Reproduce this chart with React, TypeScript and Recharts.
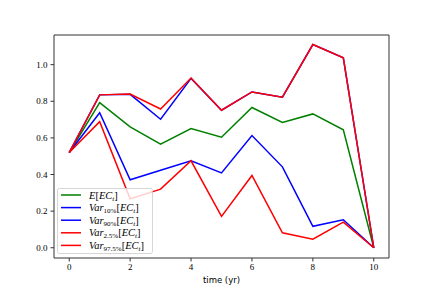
import React from "react";
import {
  LineChart,
  Line,
  XAxis,
  YAxis,
  ReferenceArea,
  Label,
} from "recharts";

// time steps (yr)
const years = [0, 1, 2, 3, 4, 5, 6, 7, 8, 9, 10];

// expected value and quantiles of EC_t
const expected = [0.52, 0.793, 0.66, 0.566, 0.651, 0.604, 0.766, 0.684, 0.731, 0.644, 0.0];
const var10 = [0.52, 0.737, 0.371, 0.423, 0.475, 0.409, 0.613, 0.442, 0.117, 0.153, 0.0];
const var90 = [0.52, 0.835, 0.838, 0.702, 0.925, 0.751, 0.851, 0.822, 1.11, 1.037, 0.0];
const var2_5 = [0.52, 0.689, 0.267, 0.32, 0.475, 0.171, 0.395, 0.082, 0.047, 0.14, 0.0];
const var97_5 = [0.52, 0.835, 0.84, 0.758, 0.927, 0.751, 0.851, 0.822, 1.11, 1.037, 0.0];

const xTicks = [0, 2, 4, 6, 8, 10];
const yTicks = [0, 0.2, 0.4, 0.6, 0.8, 1.0];

const data = years.map((t, i) => ({
  t,
  expected: expected[i],
  var10: var10[i],
  var90: var90[i],
  var2_5: var2_5[i],
  var97_5: var97_5[i],
}));

const X_MIN = -0.5;
const X_MAX = 10.5;
const Y_MIN = -0.056;
const Y_MAX = 1.162;

const serif = "'Liberation Serif', 'DejaVu Serif', serif";

const legendItems = [
  { color: "#008000", kind: "E", sub: "" },
  { color: "#0000ff", kind: "Var", sub: "10%" },
  { color: "#0000ff", kind: "Var", sub: "90%" },
  { color: "#ff0000", kind: "Var", sub: "2.5%" },
  { color: "#ff0000", kind: "Var", sub: "97.5%" },
];

const MathLabel = ({ kind, sub, x, y }: any) => (
  <text x={x} y={y} fontFamily={serif} fontSize={10.5} fill="#000">
    <tspan fontStyle="italic">{kind}</tspan>
    {sub ? (
      <tspan fontSize={7} dy={2}>
        {sub}
      </tspan>
    ) : null}
    <tspan dy={sub ? -2 : 0}>[</tspan>
    <tspan fontStyle="italic">EC</tspan>
    <tspan fontStyle="italic" fontSize={7} dy={2}>
      t
    </tspan>
    <tspan dy={-2}>]</tspan>
  </text>
);

const ChartLegend = () => (
  <svg
    width={96}
    height={66}
    style={{ position: "absolute", left: 57, top: 188 }}
  >
    <rect
      x={0.5}
      y={0.5}
      width={95}
      height={65}
      rx={2}
      fill="#fff"
      fillOpacity={0.8}
      stroke="#cccccc"
      strokeWidth={0.8}
    />
    {legendItems.map((it, i) => {
      const cy = 7 + i * 12.6;
      return (
        <g key={i}>
          <line x1={4} x2={24} y1={cy} y2={cy} stroke={it.color} strokeWidth={1.5} />
          <MathLabel kind={it.kind} sub={it.sub} x={32} y={cy + 3.5} />
        </g>
      );
    })}
  </svg>
);

export default function App() {
  return (
    <div style={{ position: "absolute", left: 0, top: 0, width: 432, height: 290, background: "#fff" }}>
      <LineChart
        width={432}
        height={290}
        data={data}
        margin={{ top: 35, right: 43, bottom: 0, left: 0 }}
      >
        <XAxis
          dataKey="t"
          type="number"
          domain={[X_MIN, X_MAX]}
          ticks={xTicks}
          height={32}
          stroke="#333"
          tick={{ fill: "#000", fontSize: 9, fontFamily: serif }}
          tickSize={3.5}
          tickMargin={2}
          axisLine={false}
        >
          <Label
            value="time (yr)"
            position="insideBottom"
            offset={7}
            style={{ fontSize: 8.5, fontFamily: "'DejaVu Sans', sans-serif", fill: "#000" }}
          />
        </XAxis>
        <YAxis
          type="number"
          domain={[Y_MIN, Y_MAX]}
          ticks={yTicks}
          width={54}
          stroke="#333"
          tick={{ fill: "#000", fontSize: 9, fontFamily: serif }}
          tickSize={3.5}
          tickMargin={3}
          axisLine={false}
          tickFormatter={(v: number) => v.toFixed(1)}
        />
        <ReferenceArea
          x1={X_MIN}
          x2={X_MAX}
          y1={Y_MIN}
          y2={Y_MAX}
          fill="none"
          stroke="#333"
          strokeWidth={1}
          strokeOpacity={1}
        />
        <Line dataKey="expected" stroke="#008000" strokeWidth={1.5} dot={false} isAnimationActive={false} />
        <Line dataKey="var10" stroke="#0000ff" strokeWidth={1.5} dot={false} isAnimationActive={false} />
        <Line dataKey="var90" stroke="#0000ff" strokeWidth={1.5} dot={false} isAnimationActive={false} />
        <Line dataKey="var2_5" stroke="#ff0000" strokeWidth={1.5} dot={false} isAnimationActive={false} />
        <Line dataKey="var97_5" stroke="#ff0000" strokeWidth={1.5} dot={false} isAnimationActive={false} />
      </LineChart>
      <ChartLegend />
    </div>
  );
}
